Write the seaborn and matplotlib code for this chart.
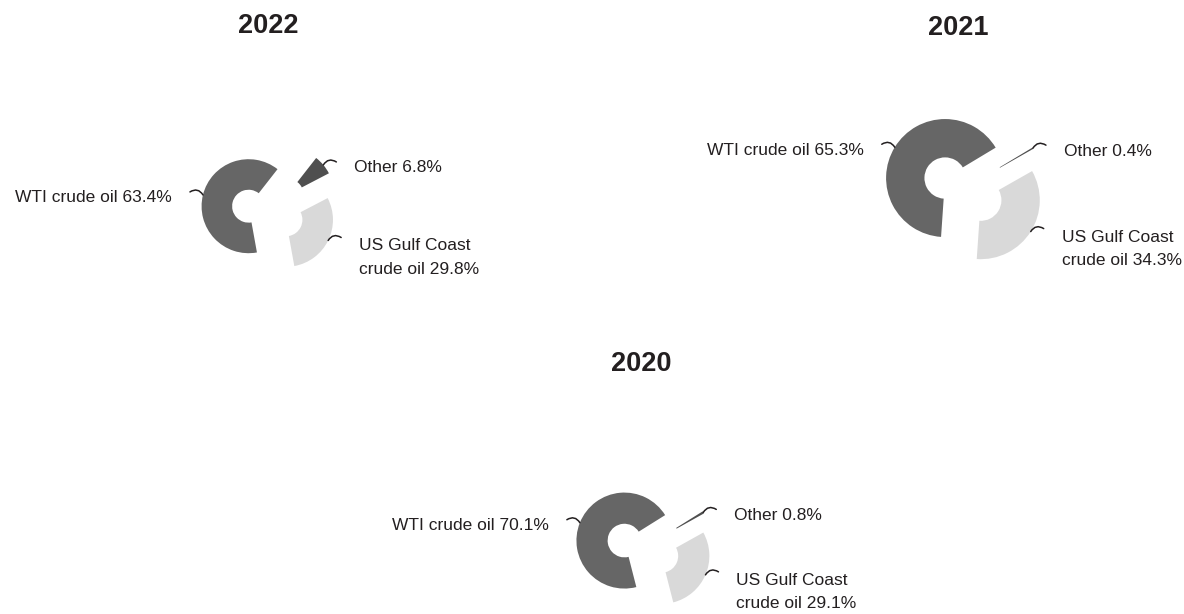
import numpy as np
import matplotlib
matplotlib.use("Agg")
import matplotlib.pyplot as plt
from matplotlib import font_manager
import seaborn as sns

# data
years = ["2022", "2021", "2020"]
wti = [63.4, 65.3, 70.1]
gulf = [29.8, 34.3, 29.1]
other = [6.8, 0.4, 0.8]
names = ["WTI crude oil", "US Gulf Coast\ncrude oil", "Other"]

# layout (figure pixels, y down)
centers = [(268, 211), (963, 189), (643, 548)]
radii = [47, 59, 48]
explode_px = [[20, 20, 25], [21, 21, 22], [20, 20, 22]]
startangles = [52, 31, 32]
title_pos = [(268, 26), (958, 28), (641, 364)]

W, H = 1184, 614
sns.set_theme(style="white")
fonts = {f.name for f in font_manager.fontManager.ttflist}
if "Liberation Sans Narrow" in fonts:
    fam, lab_fs, tit_fs = ["Liberation Sans Narrow", "DejaVu Sans"], 15, 22
else:
    fam, lab_fs, tit_fs = ["Liberation Sans", "DejaVu Sans"], 12.5, 19.5
plt.rcParams["font.family"] = fam

colors = ["#666666", "#d9d9d9", "#4f4f4f"]
ink = "#231f20"

fig = plt.figure(figsize=(W / 100, H / 100), dpi=100)
ax = fig.add_axes([0, 0, 1, 1])

for i, yr in enumerate(years):
    vals = [wti[i], gulf[i], other[i]]
    cx, cy = centers[i]
    r = radii[i]
    wedges, _ = ax.pie(vals, center=(cx, H - cy), radius=r,
                       startangle=startangles[i], counterclock=True,
                       colors=colors, explode=explode_px[i],
                       wedgeprops=dict(width=0.65 * r, linewidth=0))
    ax.text(title_pos[i][0], H - title_pos[i][1], yr, ha="center", va="center",
            fontsize=tit_fs, fontweight="bold", color=ink)
    for k, w in enumerate(wedges):
        m = np.deg2rad(0.5 * (w.theta1 + w.theta2))
        sx = w.center[0] + w.r * np.cos(m)
        sy = w.center[1] + w.r * np.sin(m)
        side = 1 if np.cos(m) > 0 else -1
        ex, ey = sx + side * 13, sy + 3
        ax.annotate("", xy=(ex, ey), xytext=(sx, sy),
                    arrowprops=dict(arrowstyle="-", lw=1.1, color=ink,
                                    connectionstyle="arc3,rad=%.1f" % (-0.5 * side),
                                    shrinkA=0, shrinkB=0))
        txt = "%s %.1f%%" % (names[k], vals[k])
        tx = ex + side * 18
        ha = "left" if side > 0 else "right"
        if "\n" in txt:
            ax.text(tx, ey - 1, txt, ha=ha, va="top", fontsize=lab_fs,
                    color=ink, linespacing=1.7)
        else:
            ax.text(tx, ey - 6, txt, ha=ha, va="center", fontsize=lab_fs,
                    color=ink)

ax.set_xlim(0, W)
ax.set_ylim(0, H)
ax.set_aspect("equal")
ax.axis("off")
fig.savefig("out.png", dpi=100)
